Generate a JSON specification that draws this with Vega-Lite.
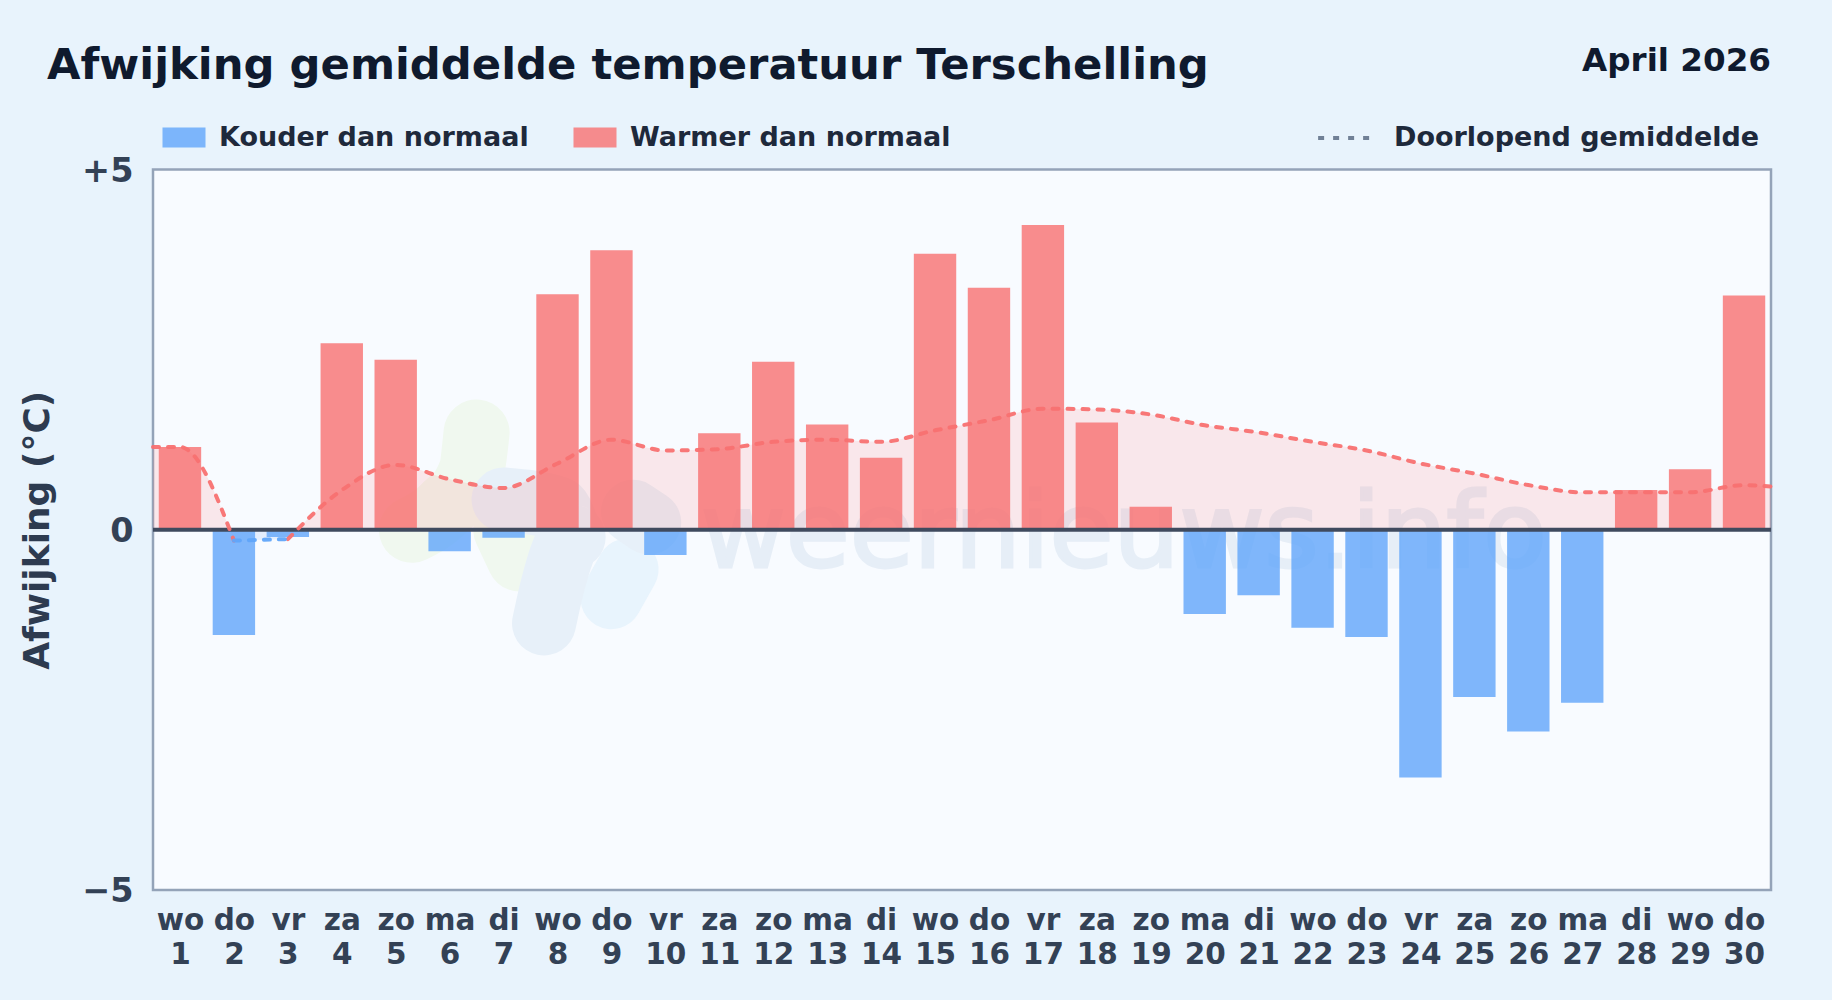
{
"$schema":"https://vega.github.io/schema/vega-lite/v6.json",
"width":1618,"height":720.5,
"autosize":{"type":"none"},
"padding":{"left":153,"top":169.5,"right":61,"bottom":110},
"background":"#e8f3fc",
"view":{"fill":"#f8fbff","stroke":"#94a3b8","strokeWidth":2.5},
"config":{"font":"DejaVu Sans"},
"title":{"text":"Afwijking gemiddelde temperatuur Terschelling","anchor":"start","frame":"group","dx":-106,"offset":-43,"fontSize":43.3,"fontWeight":"bold","color":"#0f1a2e","font":"DejaVu Sans"},
"datasets":{
"bars":[
{"day":1,"v":1.15,"cat":"Warmer dan normaal"},{"day":2,"v":-1.46,"cat":"Kouder dan normaal"},{"day":3,"v":-0.1,"cat":"Kouder dan normaal"},{"day":4,"v":2.59,"cat":"Warmer dan normaal"},{"day":5,"v":2.36,"cat":"Warmer dan normaal"},{"day":6,"v":-0.3,"cat":"Kouder dan normaal"},{"day":7,"v":-0.11,"cat":"Kouder dan normaal"},{"day":8,"v":3.27,"cat":"Warmer dan normaal"},{"day":9,"v":3.88,"cat":"Warmer dan normaal"},{"day":10,"v":-0.35,"cat":"Kouder dan normaal"},
{"day":11,"v":1.34,"cat":"Warmer dan normaal"},{"day":12,"v":2.33,"cat":"Warmer dan normaal"},{"day":13,"v":1.46,"cat":"Warmer dan normaal"},{"day":14,"v":1.0,"cat":"Warmer dan normaal"},{"day":15,"v":3.83,"cat":"Warmer dan normaal"},{"day":16,"v":3.36,"cat":"Warmer dan normaal"},{"day":17,"v":4.23,"cat":"Warmer dan normaal"},{"day":18,"v":1.49,"cat":"Warmer dan normaal"},{"day":19,"v":0.32,"cat":"Warmer dan normaal"},{"day":20,"v":-1.17,"cat":"Kouder dan normaal"},
{"day":21,"v":-0.91,"cat":"Kouder dan normaal"},{"day":22,"v":-1.36,"cat":"Kouder dan normaal"},{"day":23,"v":-1.49,"cat":"Kouder dan normaal"},{"day":24,"v":-3.44,"cat":"Kouder dan normaal"},{"day":25,"v":-2.32,"cat":"Kouder dan normaal"},{"day":26,"v":-2.8,"cat":"Kouder dan normaal"},{"day":27,"v":-2.4,"cat":"Kouder dan normaal"},{"day":28,"v":0.55,"cat":"Warmer dan normaal"},{"day":29,"v":0.84,"cat":"Warmer dan normaal"},{"day":30,"v":3.25,"cat":"Warmer dan normaal"}],
"mean":[
{"day":0.5,"m":1.15,"seg":"a","naam":"Doorlopend gemiddelde"},{"day":1,"m":1.15,"seg":"a","naam":"Doorlopend gemiddelde"},{"day":2,"m":-0.15,"seg":"a","naam":"Doorlopend gemiddelde"},
{"day":3,"m":-0.13,"seg":"c","naam":"Doorlopend gemiddelde"},{"day":4,"m":0.55,"seg":"c","naam":"Doorlopend gemiddelde"},{"day":5,"m":0.9,"seg":"c","naam":"Doorlopend gemiddelde"},{"day":6,"m":0.7,"seg":"c","naam":"Doorlopend gemiddelde"},{"day":7,"m":0.58,"seg":"c","naam":"Doorlopend gemiddelde"},{"day":8,"m":0.92,"seg":"c","naam":"Doorlopend gemiddelde"},{"day":9,"m":1.25,"seg":"c","naam":"Doorlopend gemiddelde"},{"day":10,"m":1.1,"seg":"c","naam":"Doorlopend gemiddelde"},{"day":11,"m":1.12,"seg":"c","naam":"Doorlopend gemiddelde"},{"day":12,"m":1.22,"seg":"c","naam":"Doorlopend gemiddelde"},{"day":13,"m":1.25,"seg":"c","naam":"Doorlopend gemiddelde"},{"day":14,"m":1.22,"seg":"c","naam":"Doorlopend gemiddelde"},{"day":15,"m":1.38,"seg":"c","naam":"Doorlopend gemiddelde"},{"day":16,"m":1.52,"seg":"c","naam":"Doorlopend gemiddelde"},{"day":17,"m":1.68,"seg":"c","naam":"Doorlopend gemiddelde"},{"day":18,"m":1.67,"seg":"c","naam":"Doorlopend gemiddelde"},{"day":19,"m":1.6,"seg":"c","naam":"Doorlopend gemiddelde"},{"day":20,"m":1.45,"seg":"c","naam":"Doorlopend gemiddelde"},{"day":21,"m":1.35,"seg":"c","naam":"Doorlopend gemiddelde"},{"day":22,"m":1.22,"seg":"c","naam":"Doorlopend gemiddelde"},{"day":23,"m":1.1,"seg":"c","naam":"Doorlopend gemiddelde"},{"day":24,"m":0.92,"seg":"c","naam":"Doorlopend gemiddelde"},{"day":25,"m":0.78,"seg":"c","naam":"Doorlopend gemiddelde"},{"day":26,"m":0.62,"seg":"c","naam":"Doorlopend gemiddelde"},{"day":27,"m":0.52,"seg":"c","naam":"Doorlopend gemiddelde"},{"day":28,"m":0.52,"seg":"c","naam":"Doorlopend gemiddelde"},{"day":29,"m":0.52,"seg":"c","naam":"Doorlopend gemiddelde"},{"day":30,"m":0.62,"seg":"c","naam":"Doorlopend gemiddelde"},{"day":30.5,"m":0.6,"seg":"c","naam":"Doorlopend gemiddelde"}],
"cold":[{"day":2,"m":-0.15},{"day":3,"m":-0.13}],
"blobGreen":[
{"s":"g1","o":1,"day":6.5,"y":1.35},{"s":"g1","o":2,"day":6.4,"y":0.8},{"s":"g1","o":3,"day":5.9,"y":0.3},{"s":"g1","o":4,"day":5.3,"y":0.0},
{"s":"g2","o":1,"day":7.05,"y":0.0},{"s":"g2","o":2,"day":7.3,"y":-0.4}],
"blobBlue":[
{"s":"b1","o":1,"day":7.0,"y":0.42},{"s":"b1","o":2,"day":8.0,"y":0.3},{"s":"b1","o":3,"day":8.3,"y":-0.1},{"s":"b1","o":4,"day":7.9,"y":-0.8},{"s":"b1","o":5,"day":7.75,"y":-1.3},
{"s":"b2","o":1,"day":9.4,"y":0.25},{"s":"b2","o":2,"day":9.7,"y":0.1}],
"blobPale":[{"s":"c","o":1,"day":9.3,"y":-0.55},{"s":"c","o":2,"day":9.0,"y":-0.95}],
"mark":[{"day":18.5,"v":-0.08,"t":"weernieuws.info"}],
"side":[{"day":30.5,"v":6.5,"t":"April 2026"}]
},
"encoding":{
"x":{"field":"day","type":"quantitative","scale":{"domain":[0.5,30.5],"nice":false,"zero":false,"padding":0},
"axis":{"values":[1,2,3,4,5,6,7,8,9,10,11,12,13,14,15,16,17,18,19,20,21,22,23,24,25,26,27,28,29,30],"title":null,"domain":false,"ticks":false,"grid":false,"labelFontSize":29.5,"labelFontWeight":"bold","labelColor":"#334155","labelPadding":16,"labelLineHeight":34.5,"labelOverlap":false,"labelFlush":false,"labelExpr":"[['wo','do','vr','za','zo','ma','di'][(datum.value-1)%7],''+datum.value]"}}
},
"layer":[
{"data":{"name":"blobGreen"},"mark":{"type":"line","stroke":"#f0f8ef","strokeWidth":66,"strokeCap":"round","strokeJoin":"round","interpolate":"monotone"},"encoding":{"y":{"field":"y","type":"quantitative"},"detail":{"field":"s","type":"nominal"},"order":{"field":"o","type":"quantitative"}}},
{"data":{"name":"blobPale"},"mark":{"type":"line","stroke":"#e8f4fd","strokeWidth":62,"strokeCap":"round","strokeJoin":"round"},"encoding":{"y":{"field":"y","type":"quantitative"},"detail":{"field":"s","type":"nominal"},"order":{"field":"o","type":"quantitative"}}},
{"data":{"name":"blobBlue"},"mark":{"type":"line","stroke":"#e7f0f9","strokeWidth":64,"strokeCap":"round","strokeJoin":"round","interpolate":"monotone"},"encoding":{"y":{"field":"y","type":"quantitative"},"detail":{"field":"s","type":"nominal"},"order":{"field":"o","type":"quantitative"}}},
{"data":{"name":"mark"},"mark":{"type":"text","font":"DejaVu Sans","fontSize":104,"fontWeight":"normal","color":"#e6eef7","stroke":"#e6eef7","strokeWidth":3,"align":"center","baseline":"middle"},"encoding":{"y":{"field":"v","type":"quantitative"},"text":{"field":"t","type":"nominal"}}},
{"data":{"name":"mean"},"mark":{"type":"area","color":"#ff7070","opacity":0.14,"interpolate":"monotone"},"encoding":{"y":{"field":"m","type":"quantitative"},"y2":{"datum":0},"detail":{"field":"seg","type":"nominal"}}},
{"data":{"name":"cold"},"mark":{"type":"area","color":"#3b82f6","opacity":0.1},"encoding":{"y":{"field":"m","type":"quantitative"},"y2":{"datum":0}}},
{"data":{"name":"bars"},"mark":{"type":"bar","size":42.4,"opacity":0.8},"encoding":{
"y":{"field":"v","type":"quantitative","scale":{"domain":[-5,5],"nice":false},"axis":{"values":[-5,0,5],"title":"Afwijking (°C)","titleFontSize":36,"titleFontWeight":"bold","titleColor":"#2d3b50","titlePadding":25,"domain":false,"ticks":false,"grid":false,"labelFontSize":33.5,"labelFontWeight":"bold","labelColor":"#334155","labelPadding":20,"labelOffset":1.5,"labelExpr":"datum.value>0?'+5':(datum.value<0?'−5':'0')"}},
"y2":{"datum":0},
"color":{"field":"cat","type":"nominal","scale":{"domain":["Kouder dan normaal","Warmer dan normaal"],"range":["#60a5fa","#f87171"]},
"legend":{"title":null,"orient":"none","legendX":9,"legendY":-54,"direction":"horizontal","columns":2,"columnPadding":44,"labelFontSize":27,"labelFontWeight":"bold","labelColor":"#1e293b","labelLimit":500,"symbolType":"M-1,-0.46H1V0.46H-1Z","symbolSize":1850,"symbolOpacity":0.8,"symbolStrokeWidth":0,"labelOffset":13}}}},
{"data":{"name":"mark"},"mark":{"type":"rule","color":"#3f4a5e","strokeWidth":4},"encoding":{"y":{"datum":0},"x":{"datum":0.5},"x2":{"datum":30.5}}},
{"data":{"name":"mean"},"mark":{"type":"line","color":"#f87171","opacity":0.95,"strokeWidth":4,"strokeCap":"round","interpolate":"monotone"},"encoding":{"y":{"field":"m","type":"quantitative"},"detail":{"field":"seg","type":"nominal"},
"strokeDash":{"field":"naam","type":"nominal","scale":{"domain":["Doorlopend gemiddelde"],"range":[[6,9]]},
"legend":{"title":null,"orient":"none","legendX":1163,"legendY":-61,"labelFontSize":27,"labelFontWeight":"bold","labelColor":"#1e293b","labelLimit":500,"symbolType":"stroke","symbolStrokeColor":"#64748b","symbolStrokeWidth":4,"symbolDashArray":[5,12],"symbolSize":3000,"labelOffset":19,"symbolOpacity":0.9}}}},
{"data":{"name":"cold"},"mark":{"type":"line","color":"#60a5fa","opacity":0.95,"strokeWidth":4,"strokeCap":"round","strokeDash":[6,9]},"encoding":{"y":{"field":"m","type":"quantitative"}}},
{"data":{"name":"side"},"mark":{"type":"text","font":"DejaVu Sans","fontSize":32.6,"fontWeight":"bold","color":"#0f1a2e","align":"right","baseline":"middle","clip":false},"encoding":{"y":{"field":"v","type":"quantitative"},"text":{"field":"t","type":"nominal"}}}
]
}
